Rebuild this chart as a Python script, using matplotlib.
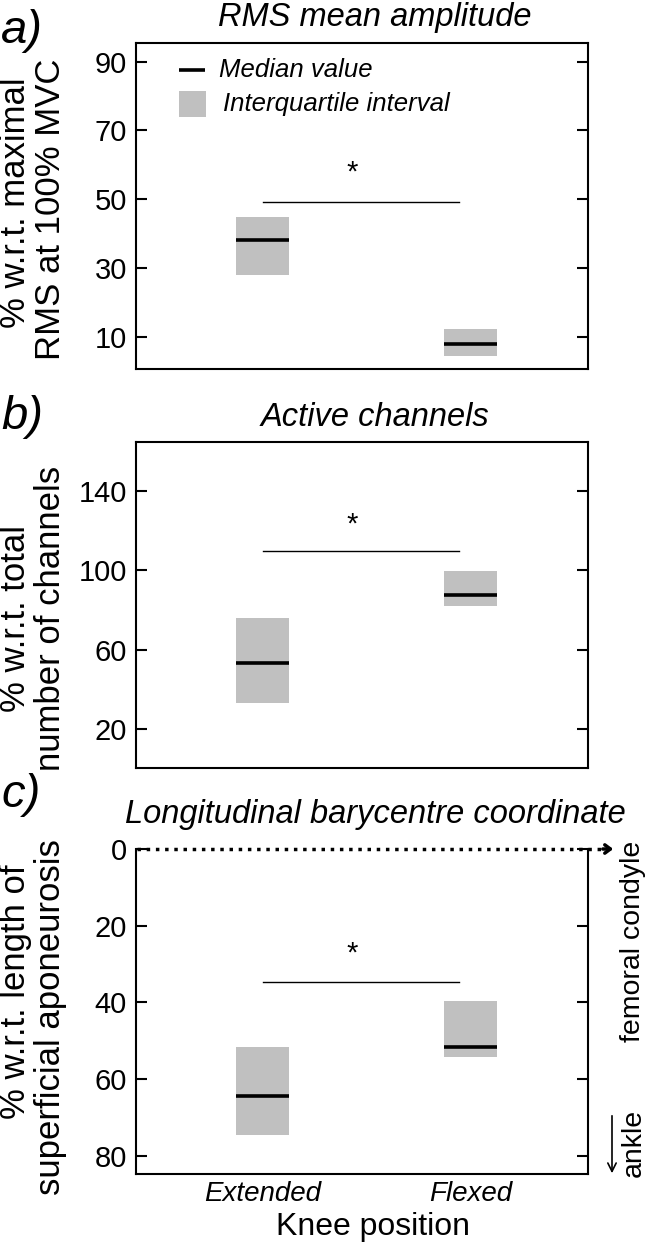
import matplotlib
matplotlib.use("Agg")
import matplotlib.pyplot as plt
from matplotlib.lines import Line2D
from matplotlib.patches import Rectangle, FancyArrowPatch

plt.rcParams["font.family"] = "Liberation Sans"

# Data
positions = ["Extended", "Flexed"]

# a) RMS mean amplitude (% w.r.t. maximal RMS at 100% MVC)
rms_q1 = [27.9, 4.5]
rms_median = [38.1, 7.9]
rms_q3 = [44.9, 12.2]

# b) Active channels (% w.r.t. total number of channels)
chan_q1 = [33.3, 82.0]
chan_median = [53.3, 87.4]
chan_q3 = [76.1, 99.5]

# c) Longitudinal barycentre coordinate (% w.r.t. length of superficial aponeurosis)
bary_q1 = [51.8, 39.7]
bary_median = [64.4, 51.8]
bary_q3 = [74.7, 54.4]

sig_level = [49.1, 109.9, 34.8]
star_level = [57.6, 123.0, 27.2]

yticks_a = [10, 30, 50, 70, 90]
yticks_b = [20, 60, 100, 140]
yticks_c = [0, 20, 40, 60, 80]

W, H = 651, 1246
GRAY = "#c0c0c0"


def fx(x):
    return x / W


def fy(y):
    return 1 - y / H


def rect(l, t, r, b):
    return [l / W, 1 - b / H, (r - l) / W, (b - t) / H]


fig = plt.figure(figsize=(W / 100, H / 100), dpi=100)
ax_a = fig.add_axes(rect(136, 43.3, 588, 369.3))
ax_b = fig.add_axes(rect(136, 441.7, 588, 768))
ax_c = fig.add_axes(rect(136, 849, 588, 1174.3))

xs = [1, 2]
bw = 0.257


def draw_panel(ax, q1, med, q3, sig, star, yticks, ylim):
    for x, lo, m, hi in zip(xs, q1, med, q3):
        ax.bar(x, hi - lo, bottom=lo, width=bw, color=GRAY, linewidth=0)
        ax.plot([x - bw / 2, x + bw / 2], [m, m], color="black", lw=2.6,
                solid_capstyle="butt")
    ax.plot([1, 1.945], [sig, sig], color="black", lw=1.0)
    ax.text(1.43, star, "*", ha="center", va="center", fontsize=21)
    ax.set_xlim(0.39, 2.566)
    ax.set_ylim(*ylim)
    ax.set_yticks(yticks)
    ax.tick_params(axis="y", direction="in", length=8, width=1.5, right=True,
                   labelsize=21, pad=6.5)
    for s in ax.spines.values():
        s.set_linewidth(1.5)


draw_panel(ax_a, rms_q1, rms_median, rms_q3, sig_level[0], star_level[0],
           yticks_a, (0.5, 95.3))
draw_panel(ax_b, chan_q1, chan_median, chan_q3, sig_level[1], star_level[1],
           yticks_b, (0.3, 164.9))
draw_panel(ax_c, bary_q1, bary_median, bary_q3, sig_level[2], star_level[2],
           yticks_c, (84.9, 0))

ax_a.set_xticks([])
ax_b.set_xticks([])
ax_c.set_xticks(xs)
ax_c.set_xticklabels(positions, fontstyle="italic", fontsize=20)
ax_c.tick_params(axis="x", length=0, pad=5)
ax_c.spines["top"].set_visible(False)

# Panel letters and titles
for lab, yb in [("a)", 43), ("b)", 429), ("c)", 807)]:
    fig.text(fx(1), fy(yb), lab, fontsize=34, fontstyle="italic", va="baseline")
for t, yb in [("RMS mean amplitude", 26), ("Active channels", 426),
              ("Longitudinal barycentre coordinate", 823)]:
    fig.text(fx(375), fy(yb), t, fontsize=23.5, fontstyle="italic",
             ha="center", va="baseline")

# Y labels (two lines each)
ylabels = [
    ("% w.r.t. maximal", "RMS at 100% MVC", 203, 209),
    ("% w.r.t. total", "number of channels", 618, 618),
    ("% w.r.t. length of", "superficial aponeurosis", 992, 1017),
]
for l1, l2, y1, y2 in ylabels:
    fig.text(fx(16), fy(y1), l1, rotation=90, fontsize=25, ha="center", va="center")
    fig.text(fx(51), fy(y2), l2, rotation=90, fontsize=25, ha="center", va="center")

fig.text(fx(372.5), fy(1235), "Knee position", fontsize=23, ha="center",
         va="baseline")

# Legend for panel a
fig.add_artist(Line2D([fx(179), fx(205)], [fy(70), fy(70)], color="black", lw=2.6,
                      transform=fig.transFigure, solid_capstyle="butt"))
fig.add_artist(Rectangle((fx(179), fy(117)), 27 / W, 26 / H, color=GRAY, lw=0,
                         transform=fig.transFigure))
fig.text(fx(219), fy(70), "Median value", fontsize=18.5, fontstyle="italic",
         va="center")
fig.text(fx(223), fy(104), "Interquartile interval", fontsize=18.5,
         fontstyle="italic", va="center")

# Panel c: dotted zero line with arrow, orientation labels
fig.add_artist(Line2D([fx(137), fx(607)], [fy(849), fy(849)], color="black",
                      lw=2.5, ls=":", transform=fig.transFigure))
fig.add_artist(FancyArrowPatch((fx(600), fy(849)), (fx(616), fy(849)),
                               arrowstyle="->,head_length=4,head_width=3",
                               lw=2.5, color="black", transform=fig.transFigure))
fig.add_artist(FancyArrowPatch((fx(612), fy(1113)), (fx(612), fy(1176)),
                               arrowstyle="->,head_length=6,head_width=3",
                               lw=1.2, color="black", transform=fig.transFigure))
fig.text(fx(633), fy(941.5), "femoral condyle", rotation=90, fontsize=20.5,
         ha="center", va="center")
fig.text(fx(634), fy(1143), "ankle", rotation=90, fontsize=20.5,
         ha="center", va="center")

fig.savefig("out.png", dpi=100)
